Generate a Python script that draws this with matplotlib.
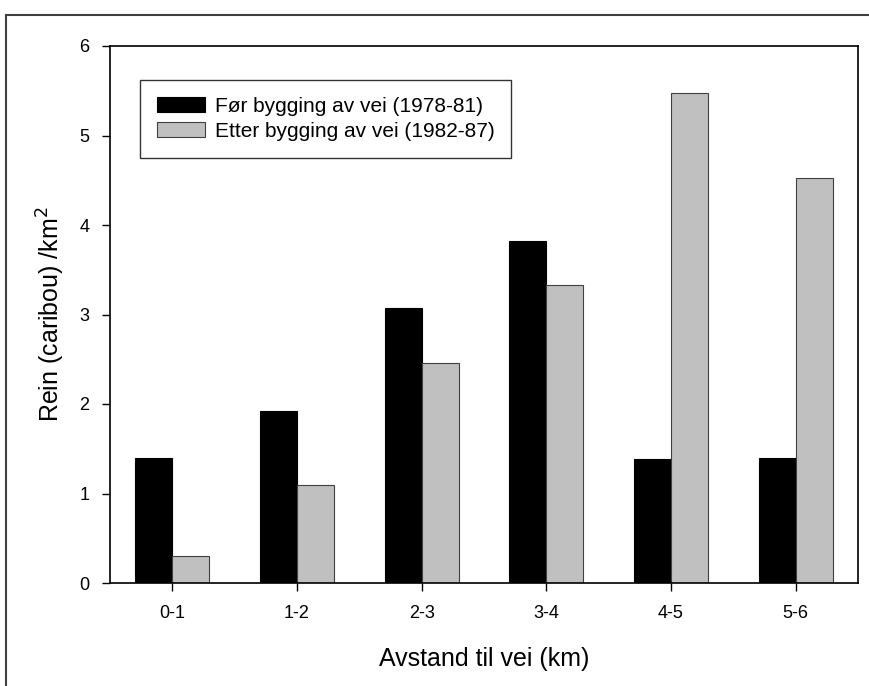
import matplotlib
matplotlib.use("Agg")
import matplotlib.pyplot as plt
import numpy as np
from matplotlib.patches import Rectangle

plt.rcParams['font.family'] = ['Liberation Sans', 'DejaVu Sans']

categories = ["0-1", "1-2", "2-3", "3-4", "4-5", "5-6"]
before = [1.40, 1.92, 3.07, 3.82, 1.38, 1.40]
after = [0.30, 1.09, 2.46, 3.33, 5.48, 4.52]
label_before = "Før bygging av vei (1978-81)"
label_after = "Etter bygging av vei (1982-87)"

W, H = 870, 686
fig = plt.figure(figsize=(W/100, H/100), dpi=100)
ax = fig.add_axes([110/W, 1-583/H, (858-110)/W, (583-46)/H])

x = np.arange(len(categories))
bw = 0.297
ax.bar(x - bw/2, before, bw, color='black', edgecolor='black', linewidth=0.8, label=label_before)
ax.bar(x + bw/2, after, bw, color='#c0c0c0', edgecolor='#404040', linewidth=0.8, label=label_after)

ax.set_xlim(-0.5, 5.5)
ax.set_ylim(0, 6)
ax.set_xticks(x)
ax.set_xticklabels(categories)
ax.set_yticks(range(7))
ax.tick_params(axis='both', direction='out', length=6, width=1, labelsize=13, colors='black')
ax.tick_params(axis='x', pad=10)
ax.tick_params(axis='y', pad=9)
for s in ax.spines.values():
    s.set_linewidth(1.2)
    s.set_color('black')

ax.set_xlabel("Avstand til vei (km)", fontsize=18, labelpad=18)
ax.set_ylabel("Rein (caribou) /km$^2$", fontsize=18, labelpad=9)

leg = ax.legend(loc='upper left', bbox_to_anchor=(30/748, 1-34/537), borderaxespad=0,
                fontsize=15, frameon=True, fancybox=False, edgecolor='black',
                handlelength=2.3, handleheight=0.72, handletextpad=0.48,
                labelspacing=0.3, borderpad=0.8)
leg.get_frame().set_linewidth(1.0)

# outer figure border (left, top, right)
fig.patches.append(Rectangle((6/W, -0.1), (W+10)/W, 1.1 - 15/H, transform=fig.transFigure,
                             fill=False, edgecolor='#404040', linewidth=1.5))

fig.savefig("out.png", dpi=100)
